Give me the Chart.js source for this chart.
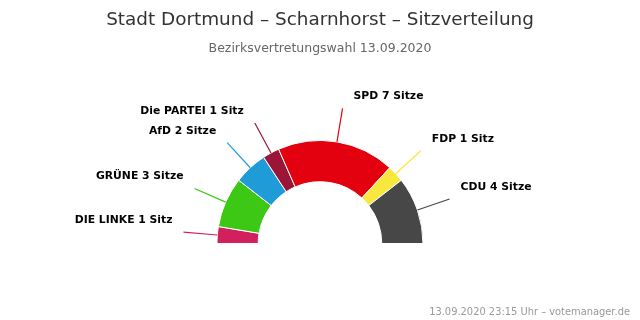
<!DOCTYPE html>
<html>
<head>
<meta charset="utf-8">
<script src="https://cdn.jsdelivr.net/npm/chart.js@4"></script>
<style>
html,body{margin:0;padding:0;background:#fff}
#wrap{width:640px;height:320px;position:relative}
</style>
</head>
<body>
<div id="wrap"><canvas id="seatChart"></canvas></div>
<script>
// seat distribution
const parties = ["DIE LINKE", "GRÜNE", "AfD", "Die PARTEI", "SPD", "FDP", "CDU"]
const seats = [1, 3, 2, 1, 7, 1, 4]
const partyColors = ["#D21F5E", "#3CC814", "#1F9BD7", "#9B1538", "#E3000F", "#F8E73C", "#474747"]

const titleText = "Stadt Dortmund – Scharnhorst – Sitzverteilung"
const subtitleText = "Bezirksvertretungswahl 13.09.2020"
const creditText = "13.09.2020 23:15 Uhr – votemanager.de"

function seatLabel(i){
return parties[i] + " " + seats[i] + (seats[i] == 1 ? " Sitz" : " Sitze")
}

const textPlugin = {
id: "texts",
afterDraw(chart){
const ctx = chart.ctx
ctx.save()
ctx.textAlign = "center"
ctx.textBaseline = "middle"
ctx.fillStyle = "#333333"
ctx.font = "18.4px 'DejaVu Sans'"
ctx.fillText(titleText, 320, 20)
ctx.fillStyle = "#666666"
ctx.font = "12.5px 'DejaVu Sans'"
ctx.fillText(subtitleText, 320, 49)
ctx.fillStyle = "#999999"
ctx.font = "9.9px 'DejaVu Sans'"
ctx.textAlign = "right"
ctx.fillText(creditText, 630, 312)

// leader lines and labels
const meta = chart.getDatasetMeta(0)
meta.data.forEach((arc, i) => {
const p = arc.getProps(["x", "y", "startAngle", "endAngle", "outerRadius"], true)
const mid = (p.startAngle + p.endAngle) / 2
const r1 = p.outerRadius
const r2 = p.outerRadius + 34
const sx = p.x + Math.cos(mid) * r1
const sy = p.y + Math.sin(mid) * r1
const ex = p.x + Math.cos(mid) * r2
const ey = p.y + Math.sin(mid) * r2
const cx = p.x + Math.cos(mid) * (r1 + 20)
const cy = p.y + Math.sin(mid) * (r1 + 20)
ctx.strokeStyle = partyColors[i]
ctx.lineWidth = 1.2
ctx.beginPath()
ctx.moveTo(sx, sy)
ctx.quadraticCurveTo(cx, cy, ex, ey)
ctx.stroke()
const right = Math.cos(mid) >= 0
ctx.fillStyle = "#000000"
ctx.font = "bold 10.8px 'DejaVu Sans'"
ctx.textAlign = right ? "left" : "right"
ctx.fillText(seatLabel(i), ex + (right ? 11 : -11), ey - 12)
})
ctx.restore()
}
}

new Chart(document.getElementById("seatChart"), {
type: "doughnut",
data: {
labels: parties,
datasets: [{
data: seats,
backgroundColor: partyColors,
borderColor: "#ffffff",
borderWidth: 1
}]
},
options: {
responsive: true,
maintainAspectRatio: false,
animation: false,
rotation: -90,
circumference: 180,
cutout: "60%",
layout: { padding: { top: 140, bottom: 76, left: 0, right: 0 } },
plugins: {
legend: { display: false },
tooltip: { enabled: false }
}
},
plugins: [textPlugin]
})
</script>
</body>
</html>
